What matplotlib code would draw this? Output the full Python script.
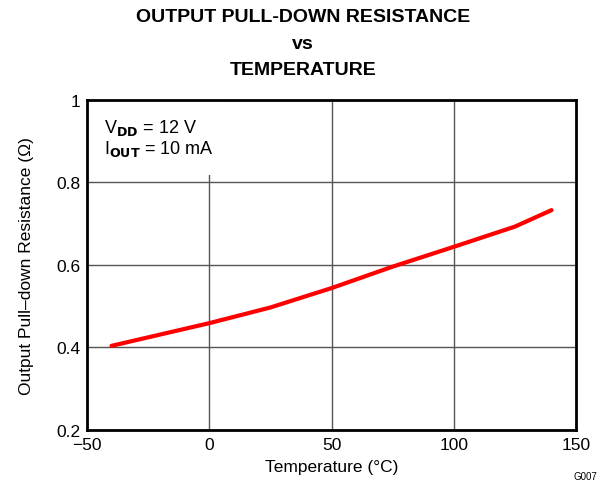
import numpy as np
import matplotlib.pyplot as plt

plt.rcParams['font.family'] = ['Liberation Sans', 'DejaVu Sans']

# data
temp = [-40, 0, 25, 50, 75, 100, 125, 140]
resistance = [0.404, 0.459, 0.497, 0.544, 0.596, 0.644, 0.693, 0.733]

xticks = [-50, 0, 50, 100, 150]
yticks = [0.2, 0.4, 0.6, 0.8, 1.0]
ytick_labels = ['0.2', '0.4', '0.6', '0.8', '1']

fig = plt.figure(figsize=(6.06, 4.89), dpi=100)
ax = fig.add_axes([0.1436, 0.1186, 0.8069, 0.6749])

ax.plot(temp, resistance, color='#ff0000', linewidth=3, solid_capstyle='round', zorder=3)

ax.set_xlim(-50, 150)
ax.set_ylim(0.2, 1.0)
ax.set_xticks(xticks)
ax.set_yticks(yticks)
ax.set_yticklabels(ytick_labels)
ax.tick_params(length=0, labelsize=12.5, pad=5)
ax.grid(True, color='#555555', linewidth=1)
ax.set_axisbelow(True)
for s in ax.spines.values():
    s.set_linewidth(2)

ax.set_xlabel('Temperature (°C)', fontsize=12.5, labelpad=5)
ax.set_ylabel('Output Pull\u2013down Resistance (Ω)', fontsize=12.5, labelpad=16)

ax.text(-43, 0.958, '$\\mathregular{V_{\\bf DD}}$ = 12 V\n$\\mathregular{I_{\\bf OUT}}$ = 10 mA',
        fontsize=13, va='top', ha='left', linespacing=1.05, zorder=1,
        bbox=dict(facecolor='white', edgecolor='none', pad=12))

fig.text(0.5, 0.982, 'OUTPUT PULL-DOWN RESISTANCE\nvs\nTEMPERATURE',
         ha='center', va='top', fontsize=14, fontweight='bold', linespacing=1.75)
fig.text(0.985, 0.015, 'G007', ha='right', va='bottom', fontsize=7)

fig.savefig('out.png', dpi=100)
